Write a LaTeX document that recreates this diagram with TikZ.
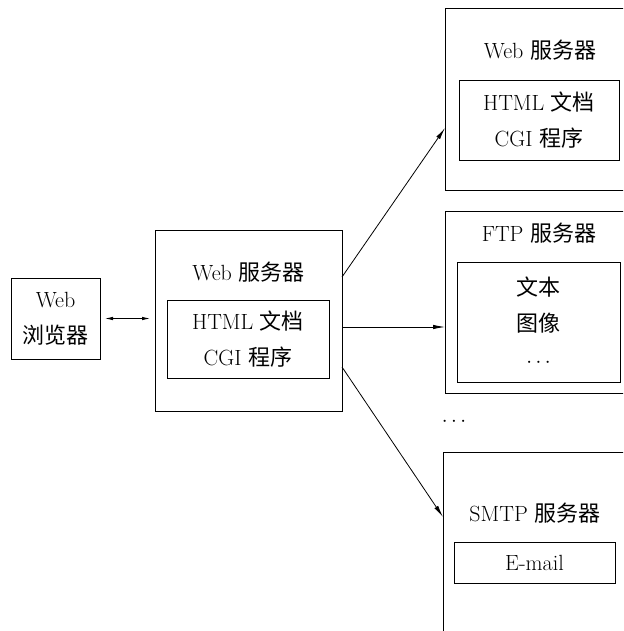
\documentclass[tikz,border=0pt]{standalone}
\usepackage{fontspec}
\newfontfamily\cjk{Noto Sans CJK SC}
\usetikzlibrary{arrows.meta}
\begin{document}
\begin{tikzpicture}[x=1pt,y=-1pt, line width=0.8pt,
  box/.style={draw, inner sep=0pt, outer sep=0pt},
  lbl/.style={font=\fontsize{22}{36}\selectfont, align=center, inner sep=0pt},
  arr/.style={-{Latex[length=12pt,width=4.5pt]}},
  dbl/.style={{Latex[length=8pt,width=3.5pt]}-{Latex[length=8pt,width=3.5pt]}}]
\useasboundingbox (0,0) rectangle (623,631);
\clip (0,0) rectangle (623,631);
% browser
\node[box, lbl, minimum width=89pt, minimum height=81pt] (browser) at (55.5,318.5) {Web\\{\cjk 浏览器}};
% middle web server
\node[box, minimum width=187pt, minimum height=181pt] (mid) at (248.5,320.5) {};
\node[lbl] (midt) at (248.5,272) {Web {\cjk 服务器}};
\node[box, lbl, minimum width=162pt, minimum height=78pt] (midin) at (248,339) {HTML {\cjk 文档}\\CGI {\cjk 程序}};
% top right web server
\node[box, minimum width=195pt, minimum height=182pt] (web2) at (542.5,99) {};
\node[lbl] (web2t) at (540,50) {Web {\cjk 服务器}};
\node[box, lbl, minimum width=160pt, minimum height=80pt] (web2in) at (539,120) {HTML {\cjk 文档}\\CGI {\cjk 程序}};
% FTP server
\node[box, minimum width=195pt, minimum height=182pt] (ftp) at (542.5,302) {};
\node[lbl] (ftpt) at (539,233) {FTP {\cjk 服务器}};
\node[box, lbl, minimum width=163pt, minimum height=120pt] (ftpin) at (538.5,322) {{\cjk 文本}\\{\cjk 图像}\\$\cdots$};
% more
\node[lbl] (more) at (454,422) {$\cdots$};
% SMTP server
\node[box, minimum width=197pt, minimum height=190pt] (smtp) at (541.5,547) {};
\node[lbl] (smtpt) at (535,513) {SMTP {\cjk 服务器}};
\node[box, lbl, minimum width=161pt, minimum height=41pt] (smtpin) at (534.5,562.5) {E-mail};
% connectors
\draw[dbl, shorten <=5pt, shorten >=5pt] (browser.east) -- (browser.east -| mid.west);
\draw[arr] ([yshift=43.5pt]mid.east) -- ([yshift=-29pt]web2.west);
\draw[arr] ([yshift=-6.5pt]mid.east) -- ([yshift=-6.5pt]mid.east -| ftp.west);
\draw[arr] ([yshift=-46.5pt]mid.east) -- ([yshift=30pt]smtp.west);
\end{tikzpicture}
\end{document}
